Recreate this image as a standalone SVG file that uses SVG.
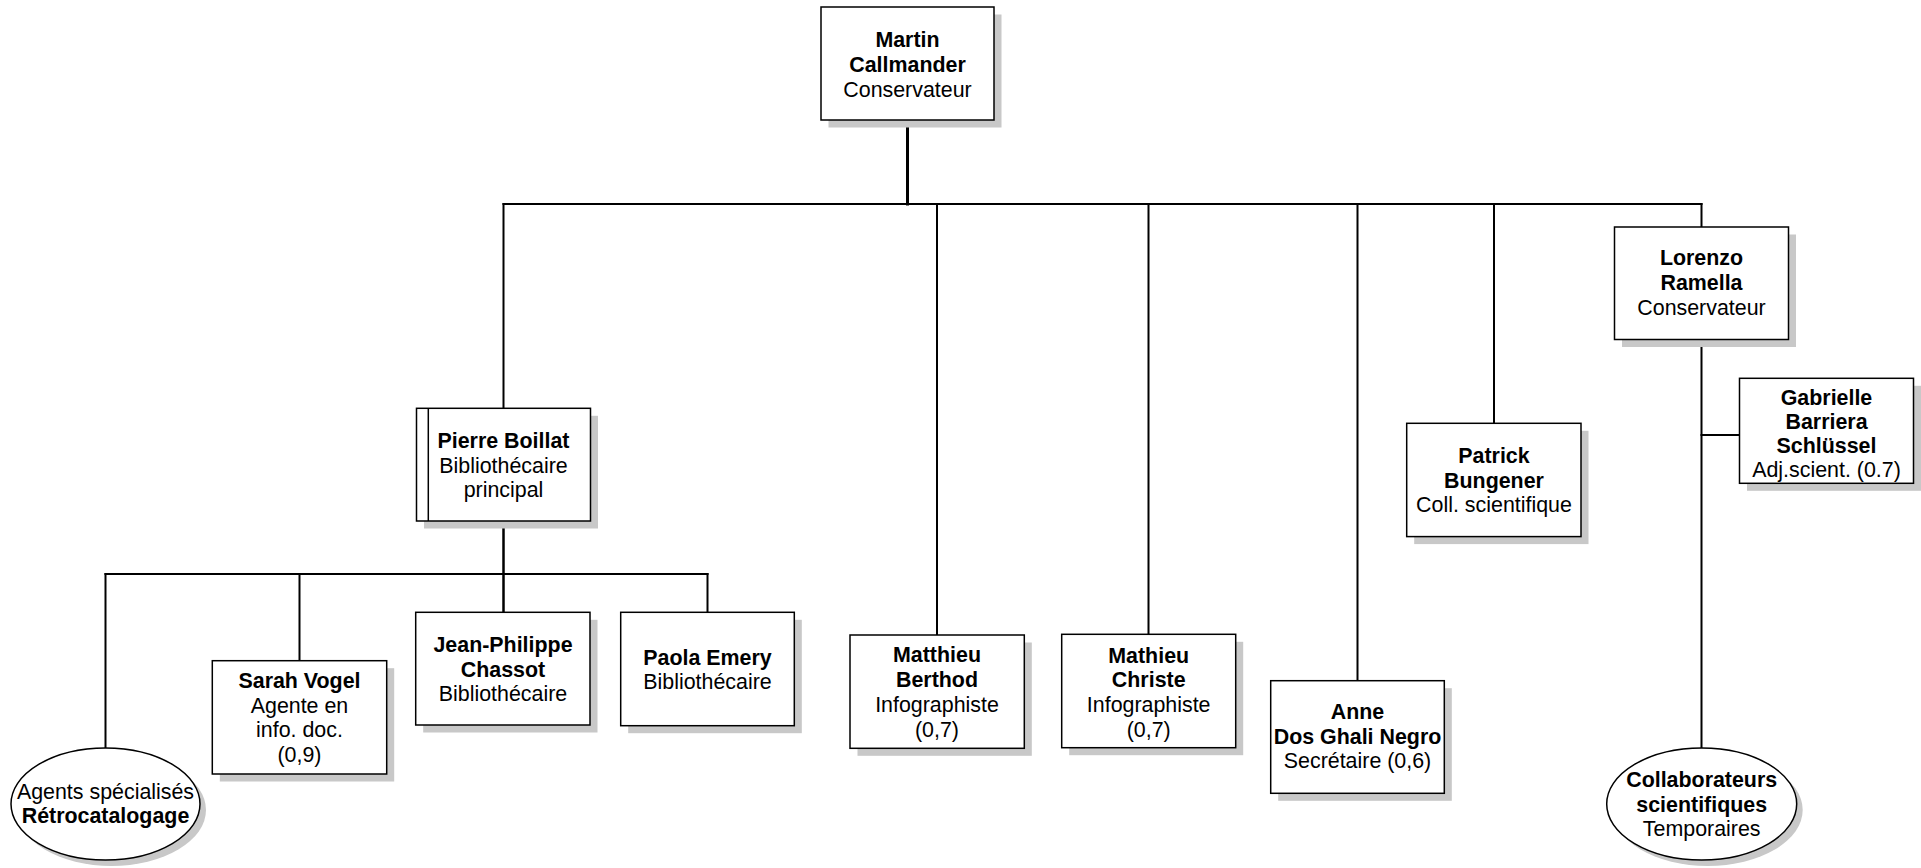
<svg xmlns="http://www.w3.org/2000/svg" width="1921" height="868" viewBox="0 0 1921 868">
<style>
  .box { fill: #ffffff; stroke: #000000; stroke-width: 1.5; }
  .shadow { fill: #c8c8c8; stroke: none; }
  .conn { fill: none; stroke: #000000; stroke-width: 2; stroke-linecap: square; }
  text { font-family: "Liberation Sans", Arial, sans-serif; font-size: 21.4px; fill: #000000; text-anchor: middle; }
  .b { font-weight: bold; }
</style>
<rect x="0" y="0" width="1921" height="868" fill="#ffffff"/>

<g id="connectors">
  <line class="conn" x1="907.5" y1="120" x2="907.5" y2="204" style="stroke-width:3"/>
  <line class="conn" x1="503.5" y1="204" x2="1701.5" y2="204"/>
  <line class="conn" x1="503.5" y1="204" x2="503.5" y2="408"/>
  <line class="conn" x1="937" y1="204" x2="937" y2="635"/>
  <line class="conn" x1="1148.5" y1="204" x2="1148.5" y2="634"/>
  <line class="conn" x1="1357.5" y1="204" x2="1357.5" y2="681"/>
  <line class="conn" x1="1494" y1="204" x2="1494" y2="423"/>
  <line class="conn" x1="1701.5" y1="204" x2="1701.5" y2="227"/>
  <line class="conn" x1="1701.5" y1="339.5" x2="1701.5" y2="748"/>
  <line class="conn" x1="1701.5" y1="435" x2="1739.5" y2="435"/>
  <line class="conn" x1="503.5" y1="521" x2="503.5" y2="612" style="stroke-width:2.5"/>
  <line class="conn" x1="105.5" y1="574" x2="707.5" y2="574"/>
  <line class="conn" x1="105.5" y1="574" x2="105.5" y2="748"/>
  <line class="conn" x1="299.5" y1="574" x2="299.5" y2="660.5"/>
  <line class="conn" x1="707.5" y1="574" x2="707.5" y2="612"/>
</g>

<g id="martin">
  <rect class="shadow" x="828.5" y="14.5" width="173" height="113"/>
  <rect class="box" x="821" y="7" width="173" height="113"/>
  <text x="907.5" y="46.7" class="b">Martin</text>
  <text x="907.5" y="71.7" class="b">Callmander</text>
  <text x="907.5" y="96.7">Conservateur</text>
</g>

<g id="pierre">
  <rect class="shadow" x="424" y="415.8" width="174" height="112.7"/>
  <rect class="box" x="416.5" y="408.3" width="174" height="112.7"/>
  <line x1="428.3" y1="408.3" x2="428.3" y2="521" stroke="#000" stroke-width="1.5"/>
  <text x="503.5" y="448.3" class="b">Pierre Boillat</text>
  <text x="503.5" y="472.7">Bibliothécaire</text>
  <text x="503.5" y="496.5">principal</text>
</g>

<g id="agents">
  <ellipse class="shadow" cx="111.5" cy="810" rx="94.5" ry="56"/>
  <ellipse class="box" cx="105.5" cy="804" rx="94.5" ry="56"/>
  <text x="105.5" y="799">Agents spécialisés</text>
  <text x="105.5" y="823.3" class="b">Rétrocatalogage</text>
</g>

<g id="sarah">
  <rect class="shadow" x="219.8" y="668.2" width="174.4" height="113.3"/>
  <rect class="box" x="212.3" y="660.7" width="174.4" height="113.3"/>
  <text x="299.5" y="688.3" class="b">Sarah Vogel</text>
  <text x="299.5" y="713">Agente en</text>
  <text x="299.5" y="737.3">info. doc.</text>
  <text x="299.5" y="761.7">(0,9)</text>
</g>

<g id="jean-philippe">
  <rect class="shadow" x="423.2" y="619.8" width="174.3" height="112.7"/>
  <rect class="box" x="415.7" y="612.3" width="174.3" height="112.7"/>
  <text x="503" y="651.7" class="b">Jean-Philippe</text>
  <text x="503" y="676.5" class="b">Chassot</text>
  <text x="503" y="700.7">Bibliothécaire</text>
</g>

<g id="paola">
  <rect class="shadow" x="628.2" y="619.8" width="173.6" height="113.4"/>
  <rect class="box" x="620.7" y="612.3" width="173.6" height="113.4"/>
  <text x="707.5" y="665" class="b">Paola Emery</text>
  <text x="707.5" y="689.3">Bibliothécaire</text>
</g>

<g id="berthod">
  <rect class="shadow" x="857.5" y="642.5" width="174.3" height="113.3"/>
  <rect class="box" x="850" y="635" width="174.3" height="113.3"/>
  <text x="937" y="662.3" class="b">Matthieu</text>
  <text x="937" y="687.3" class="b">Berthod</text>
  <text x="937" y="711.7">Infographiste</text>
  <text x="937" y="736.5">(0,7)</text>
</g>

<g id="christe">
  <rect class="shadow" x="1069.2" y="641.8" width="174" height="113.4"/>
  <rect class="box" x="1061.7" y="634.3" width="174" height="113.4"/>
  <text x="1148.7" y="662.7" class="b">Mathieu</text>
  <text x="1148.7" y="687.3" class="b">Christe</text>
  <text x="1148.7" y="711.7">Infographiste</text>
  <text x="1148.7" y="736.5">(0,7)</text>
</g>

<g id="anne">
  <rect class="shadow" x="1278.2" y="688.2" width="173.6" height="112.6"/>
  <rect class="box" x="1270.7" y="680.7" width="173.6" height="112.6"/>
  <text x="1357.5" y="719.3" class="b">Anne</text>
  <text x="1357.5" y="744.3" class="b">Dos Ghali Negro</text>
  <text x="1357.5" y="768.3">Secrétaire (0,6)</text>
</g>

<g id="patrick">
  <rect class="shadow" x="1414.2" y="430.8" width="174.3" height="113.3"/>
  <rect class="box" x="1406.7" y="423.3" width="174.3" height="113.3"/>
  <text x="1494" y="462.7" class="b">Patrick</text>
  <text x="1494" y="487.5" class="b">Bungener</text>
  <text x="1494" y="511.7">Coll. scientifique</text>
</g>

<g id="lorenzo">
  <rect class="shadow" x="1622" y="234.5" width="174" height="112.5"/>
  <rect class="box" x="1614.5" y="227" width="174" height="112.5"/>
  <text x="1701.5" y="265" class="b">Lorenzo</text>
  <text x="1701.5" y="290" class="b">Ramella</text>
  <text x="1701.5" y="315">Conservateur</text>
</g>

<g id="gabrielle">
  <rect class="shadow" x="1747" y="385.8" width="174" height="105"/>
  <rect class="box" x="1739.5" y="378.3" width="174" height="105"/>
  <text x="1826.5" y="405" class="b">Gabrielle</text>
  <text x="1826.5" y="429.3" class="b">Barriera</text>
  <text x="1826.5" y="453.3" class="b">Schlüssel</text>
  <text x="1826.5" y="476.7">Adj.scient. (0.7)</text>
</g>

<g id="collaborateurs">
  <ellipse class="shadow" cx="1707.7" cy="810" rx="95" ry="56"/>
  <ellipse class="box" cx="1701.7" cy="804" rx="95" ry="56"/>
  <text x="1701.7" y="786.7" class="b">Collaborateurs</text>
  <text x="1701.7" y="811.5" class="b">scientifiques</text>
  <text x="1701.7" y="836">Temporaires</text>
</g>
</svg>
